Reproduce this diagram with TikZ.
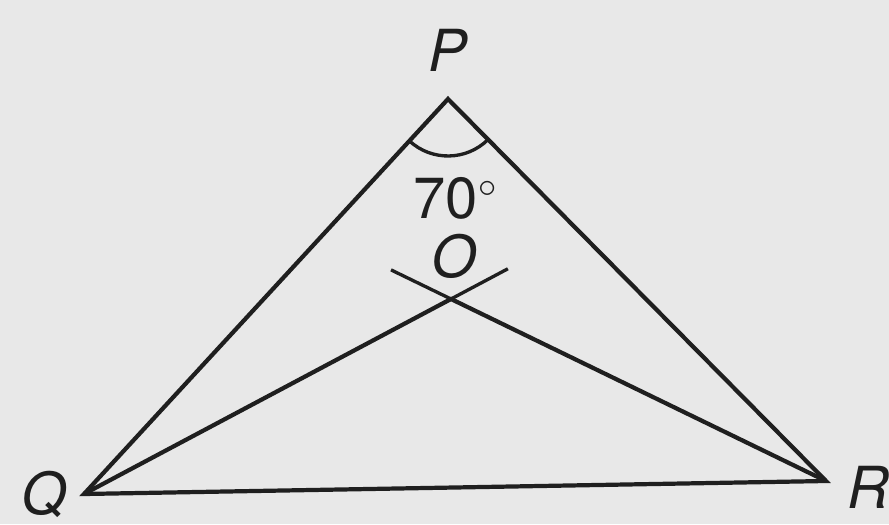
\documentclass[tikz,border=0pt]{standalone}
\usepackage{fontspec}
\setsansfont{TeX Gyre Heros}
\usepackage{tikz}
\usetikzlibrary{calc, positioning}

\definecolor{paper}{gray}{0.91}
\definecolor{ink}{gray}{0.12}

\begin{document}
\begin{tikzpicture}[x=0.02cm, y=0.02cm,
    side/.style={ink, line width=2.4pt, line join=miter},
    arcmark/.style={ink, line width=1.9pt},
    lbl/.style={ink, inner sep=0pt, font=\fontsize{33}{36}\selectfont\sffamily\itshape}]
    \fill[paper] (0,0) rectangle (889,524);
    \useasboundingbox (0,0) rectangle (889,524);
    % vertices of the triangle and the point O
    \coordinate (P) at (448,425);
    \coordinate (Q) at (84,30);
    \coordinate (R) at (826,43);
    \coordinate (O) at (451,225);
    % triangle PQR and the bisectors meeting at O
    \draw[side] (P) -- (Q) -- (R) -- cycle;
    \draw[side] (Q) -- (O) -- (R);
    % construction marks crossing at O
    \coordinate (markL) at ($(O)!-0.16!(R)$);
    \coordinate (markR) at ($(O)!-0.155!(Q)$);
    \draw[arcmark] (markL) -- ($(O)!0.03!(R)$);
    \draw[arcmark] (markR) -- ($(O)!0.03!(Q)$);
    % angle at P
    \draw[arcmark] ($(P)+(227.3:1.14cm)$) arc[start angle=227.3, end angle=314.7, radius=1.14cm];
    % labels
    \node[lbl] (Plbl) at (448,474) {P};
    \node[lbl] (Qlbl) at (44,30) {Q};
    \node[lbl] (Rlbl) at (868,37) {R};
    \node[lbl] (Olbl) at (454,268) {O};
    \node[lbl, font=\fontsize{33}{36}\selectfont\sffamily] (ang) at (455,326)
        {70\raisebox{0.36em}{\fontsize{21}{22}\selectfont$\circ$}};
\end{tikzpicture}
\end{document}
